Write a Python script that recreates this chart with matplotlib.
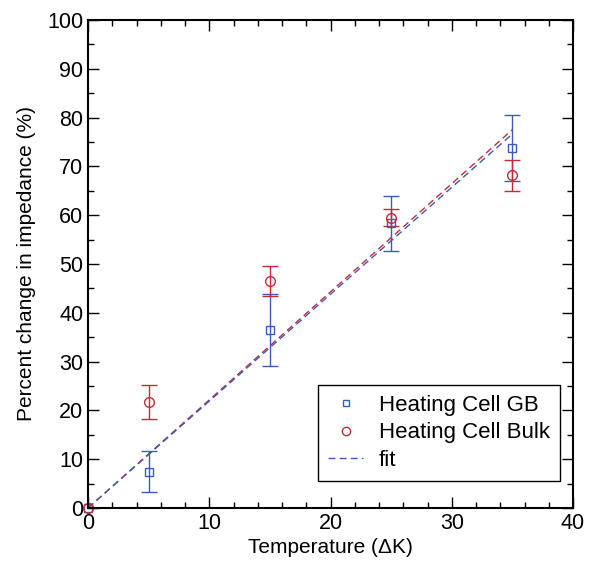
import matplotlib.pyplot as plt
from matplotlib.lines import Line2D
import numpy as np

plt.rcParams['font.family'] = ['Liberation Sans', 'DejaVu Sans']

# data
temp = [0, 5, 15, 25, 35]
gb = [0, 7.4, 36.5, 58.3, 73.8]
gb_err = [0, 4.2, 7.4, 5.7, 6.7]
bulk = [0, 21.8, 46.5, 59.5, 68.2]
bulk_err = [0, 3.5, 3.0, 1.8, 3.2]
fit_x = [0, 35]
gb_slope = 2.19
bulk_slope = 2.215

blue = '#3a5cb8'
red = '#c8283a'

fig = plt.figure(figsize=(5.93, 5.66), dpi=100)
ax = fig.add_axes([0.1484, 0.1025, 0.8179, 0.8622])

for y, e, mk, c, ms in [(gb, gb_err, 's', blue, 6), (bulk, bulk_err, 'o', red, 7)]:
    ax.errorbar(temp, y, yerr=e, fmt=mk, color=c, mfc='none', mec=c,
                ms=ms, mew=1, elinewidth=1, capsize=6, capthick=1)

# points at origin drawn unclipped
ax.plot(temp[:1], gb[:1], 's', mfc='none', mec=blue, ms=6, mew=1, clip_on=False)
ax.plot(temp[:1], bulk[:1], 'o', mfc='none', mec=red, ms=7, mew=1, clip_on=False)

fx = np.array(fit_x)
ax.plot(fx, bulk_slope * fx, color=red, lw=1, dashes=(5, 3))
ax.plot(fx, gb_slope * fx, color=blue, lw=1, dashes=(5, 3))

ax.set_xlim(0, 40)
ax.set_ylim(0, 100)
ax.set_xticks(np.arange(0, 41, 10))
ax.set_xticks(np.arange(0, 41, 2), minor=True)
ax.set_yticks(np.arange(0, 101, 10))
ax.set_yticks(np.arange(0, 101, 5), minor=True)
ax.tick_params(which='both', direction='in', top=True, right=True, labelsize=15.5, width=1)
ax.tick_params(which='major', length=8)
ax.tick_params(which='minor', length=4)
for s in ax.spines.values():
    s.set_linewidth(1.5)

ax.set_xlabel('Temperature (ΔK)', fontsize=15, labelpad=3)
ax.set_ylabel('Percent change in impedance (%)', fontsize=15, labelpad=8)

handles = [
    Line2D([], [], ls='none', marker='s', mfc='none', mec=blue, ms=5, mew=1),
    Line2D([], [], ls='none', marker='o', mfc='none', mec=red, ms=6, mew=1),
    Line2D([], [], color=blue, lw=1, dashes=(5, 3)),
]
labels = ['Heating Cell GB', 'Heating Cell Bulk', 'fit']
leg = ax.legend(handles, labels, loc='lower right', bbox_to_anchor=(0.973, 0.055),
                borderaxespad=0, fontsize=16, fancybox=False, edgecolor='black',
                framealpha=1, handlelength=1.6, handletextpad=0.7, borderpad=0.45,
                labelspacing=0.3)
leg.get_frame().set_linewidth(1)

fig.savefig('out.png', dpi=100)
